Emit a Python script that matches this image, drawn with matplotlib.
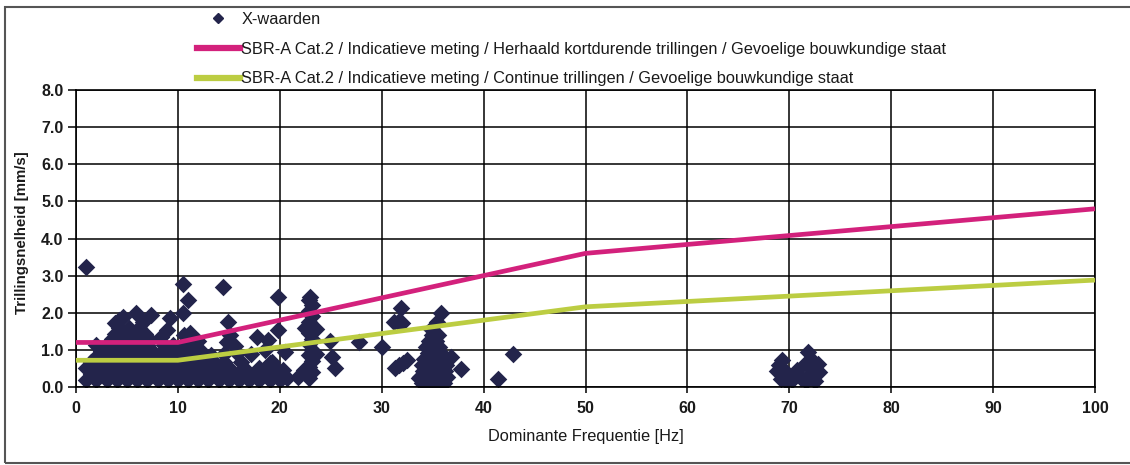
import matplotlib
matplotlib.use('Agg')
import matplotlib.pyplot as plt
from matplotlib.lines import Line2D
from matplotlib.patches import Rectangle
from matplotlib.ticker import FormatStrFormatter

plt.rcParams['font.family'] = ['Liberation Sans', 'DejaVu Sans']

# ---------------- data ----------------
# limit lines (SBR-A Cat.2)
limit_freq = [0, 10, 50, 100]
limit_short = [1.2, 1.2, 3.6, 4.8]      # herhaald kortdurende trillingen
limit_cont = [0.72, 0.72, 2.16, 2.88]   # continue trillingen

# dense band, low frequencies (rows of readings)
band_x = [1.0, 2.0, 3.0, 4.0, 5.0, 6.0, 7.0, 8.0, 9.0, 10.0, 11.0, 12.0, 13.0, 14.0, 15.0, 16.0, 17.0, 18.0, 19.0, 20.0,
          1.5, 2.5, 3.5, 4.5, 5.5, 6.5, 7.5, 8.5, 9.5, 10.5, 11.5, 12.5, 13.5, 14.5, 15.5, 16.5, 17.5, 18.5, 19.5,
          1.0, 2.0, 3.0, 4.0, 5.0, 6.0, 7.0, 8.0, 9.0, 10.0, 11.0, 12.0, 13.0, 14.0, 15.0, 16.5, 18.0, 19.5,
          1.5, 2.5, 3.5, 4.5, 5.5, 6.5, 7.5, 8.5, 9.5, 10.5, 11.5, 12.5, 13.5, 14.5, 16.2, 19.2,
          2.0, 3.0, 4.0, 5.0, 6.0, 7.0, 8.0, 9.0, 10.0, 11.0, 12.0, 13.2, 14.5, 15.8,
          2.5, 3.5, 4.5, 5.5, 6.5, 7.5, 8.5, 9.5, 10.5, 11.5, 12.3,
          2.0, 3.0, 4.0, 5.0, 6.0, 7.0, 8.6, 9.5, 10.5, 11.5]
band_y = [0.18, 0.18, 0.18, 0.18, 0.18, 0.18, 0.18, 0.18, 0.18, 0.18, 0.18, 0.18, 0.18, 0.18, 0.18, 0.18, 0.18, 0.18, 0.18, 0.18,
          0.34, 0.34, 0.34, 0.34, 0.34, 0.34, 0.34, 0.34, 0.34, 0.34, 0.34, 0.34, 0.34, 0.34, 0.34, 0.34, 0.34, 0.34, 0.34,
          0.50, 0.50, 0.50, 0.50, 0.50, 0.50, 0.50, 0.50, 0.50, 0.50, 0.50, 0.50, 0.50, 0.50, 0.50, 0.50, 0.50, 0.50,
          0.66, 0.66, 0.66, 0.66, 0.66, 0.66, 0.66, 0.66, 0.66, 0.66, 0.66, 0.66, 0.66, 0.66, 0.66, 0.66,
          0.82, 0.82, 0.82, 0.82, 0.82, 0.82, 0.82, 0.82, 0.82, 0.82, 0.82, 0.85, 0.88, 0.92,
          0.98, 0.98, 0.98, 0.98, 0.98, 0.98, 0.98, 0.98, 0.98, 0.98, 0.98,
          1.12, 1.12, 1.12, 1.12, 1.12, 1.12, 1.12, 1.12, 1.12, 1.12]

# bump above the magenta line (3-12 Hz) and scattered points up to 22 Hz
upper_x = [3.5, 4.5, 5.5, 6.5, 7.2, 3.8, 4.8, 5.8, 6.8, 4.2, 5.2, 6.2,
           3.8, 4.2, 4.6, 5.9, 6.6, 7.4, 8.3, 8.9, 9.2, 10.5, 10.5, 11.0, 10.6, 11.3, 11.2, 12.0, 1.0,
           14.4, 14.9, 15.1, 14.8, 15.6, 17.2, 17.8, 18.5, 18.8, 19.8, 19.8, 20.5, 19.0, 20.7, 20.3, 21.8]
upper_y = [1.28, 1.28, 1.28, 1.28, 1.28, 1.44, 1.44, 1.44, 1.44, 1.60, 1.60, 1.60,
           1.72, 1.80, 1.88, 2.00, 1.75, 1.94, 1.35, 1.54, 1.86, 2.00, 2.78, 2.35, 1.40, 1.38, 1.45, 1.25, 3.22,
           2.70, 1.76, 1.40, 1.22, 1.10, 0.90, 1.36, 1.00, 1.27, 2.42, 1.54, 0.95, 0.64, 0.24, 0.45, 0.28]

# vertical column near 23 Hz
col23_x = [22.9, 23.2, 22.9, 23.2, 22.9, 23.2, 22.9, 23.2, 22.9, 23.2, 22.9, 23.2, 22.9, 23.2, 22.9, 23.0,
           22.5, 23.6, 22.4, 23.6]
col23_y = [0.25, 0.40, 0.55, 0.70, 0.85, 1.00, 1.15, 1.30, 1.45, 1.60, 1.75, 1.90, 2.05, 2.20, 2.35, 2.42,
           1.60, 1.55, 0.45, 0.90]

# scattered points 24-43 Hz
mid_x = [24.9, 25.1, 25.4, 27.8, 30.0, 31.9, 31.2, 31.6, 32.0, 31.3, 31.7, 32.1, 32.5,
         34.8, 35.4, 35.8, 36.8, 37.8, 41.4, 42.9, 33.7]
mid_y = [1.25, 0.82, 0.51, 1.22, 1.07, 2.12, 1.76, 1.76, 1.72, 0.52, 0.58, 0.65, 0.72,
         1.55, 1.76, 2.00, 0.82, 0.49, 0.21, 0.89, 0.24]

# cluster near 35 Hz
col35_x = [34.0, 34.7, 35.4, 36.1, 33.8, 34.4, 35.1, 35.8, 36.4, 34.1, 34.8, 35.5, 36.2,
           34.0, 34.5, 35.1, 35.8, 36.3, 34.2, 34.9, 35.6, 36.2, 34.5, 35.1, 35.8,
           34.3, 34.9, 35.6, 34.6, 35.3, 34.9, 35.5]
col35_y = [0.12, 0.12, 0.12, 0.12, 0.28, 0.28, 0.28, 0.28, 0.28, 0.44, 0.44, 0.44, 0.44,
           0.60, 0.60, 0.60, 0.60, 0.60, 0.76, 0.76, 0.76, 0.76, 0.92, 0.92, 0.92,
           1.08, 1.08, 1.08, 1.24, 1.24, 1.40, 1.40]

# cluster near 70 Hz
col70_x = [69.3, 68.8, 69.0, 69.2, 69.7, 69.8, 70.3, 70.8, 71.1, 71.8, 71.6, 72.1, 71.6, 72.5, 72.8, 72.9, 72.2]
col70_y = [0.73, 0.42, 0.60, 0.22, 0.15, 0.38, 0.20, 0.46, 0.25, 0.95, 0.64, 0.38, 0.15, 0.15, 0.62, 0.40, 0.72]

freq = band_x + upper_x + col23_x + mid_x + col35_x + col70_x
speed = band_y + upper_y + col23_y + mid_y + col35_y + col70_y

# ---------------- style ----------------
W, H = 1130, 465
point_color = '#23244b'
magenta = '#d3217c'
green = '#bccd42'

fig = plt.figure(figsize=(W / 100, H / 100), dpi=100)
fig.patch.set_facecolor('white')

ax = fig.add_axes([76 / W, 1 - 387 / H, (1095 - 76) / W, (387 - 90) / H])
ax.scatter(freq, speed, marker='D', s=80, color=point_color, linewidths=0, zorder=2)
ax.plot(limit_freq, limit_short, color=magenta, lw=3.4, zorder=3, solid_capstyle='butt')
ax.plot(limit_freq, limit_cont, color=green, lw=3.4, zorder=3, solid_capstyle='butt')

ax.set_xlim(0, 100)
ax.set_ylim(0, 8)
ax.set_xticks(range(0, 101, 10))
ax.set_yticks(range(0, 9))
ax.yaxis.set_major_formatter(FormatStrFormatter('%.1f'))
ax.grid(True, color='black', lw=1.1)
ax.set_axisbelow(True)
for s in ax.spines.values():
    s.set_color('black')
    s.set_linewidth(1.2)
ax.tick_params(axis='x', length=4, width=1.1, pad=6, labelsize=11.5, colors='black')
ax.tick_params(axis='y', length=6, width=1.1, pad=3, labelsize=11.5, colors='black')
for lab in ax.get_xticklabels() + ax.get_yticklabels():
    lab.set_fontweight('bold')
    lab.set_color('#1a1a1a')

ax.set_xlabel('Dominante Frequentie [Hz]', fontsize=11.8, color='#1a1a1a')
ax.xaxis.set_label_coords(0.5, -0.14)
ax.set_ylabel('Trillingsnelheid [mm/s]', fontsize=10.8, fontweight='bold', color='#1a1a1a')
ax.yaxis.set_label_coords(-0.046, 0.52)

handles = [
    Line2D([], [], marker='D', color=point_color, ls='none', markersize=5.5),
    Line2D([], [], color=magenta, lw=4.5),
    Line2D([], [], color=green, lw=4.5),
]
labels = [
    'X-waarden',
    'SBR-A Cat.2 / Indicatieve meting / Herhaald kortdurende trillingen / Gevoelige bouwkundige staat',
    'SBR-A Cat.2 / Indicatieve meting / Continue trillingen / Gevoelige bouwkundige staat',
]
leg = fig.legend(handles, labels, loc='upper left', bbox_to_anchor=(197 / W, 1 - 12 / H),
                 frameon=False, fontsize=11.8, handlelength=2.6, handletextpad=0.1,
                 labelspacing=0.9, borderpad=0, borderaxespad=0)
for t in leg.get_texts():
    t.set_color('#1a1a1a')

# outer frame of the chart
fig.patches.append(Rectangle((5 / W, 1 - 463 / H), 1.2, (463 - 7) / H, transform=fig.transFigure,
                             fill=False, edgecolor='#555555', lw=1.5))

fig.savefig('out.png', dpi=100)
